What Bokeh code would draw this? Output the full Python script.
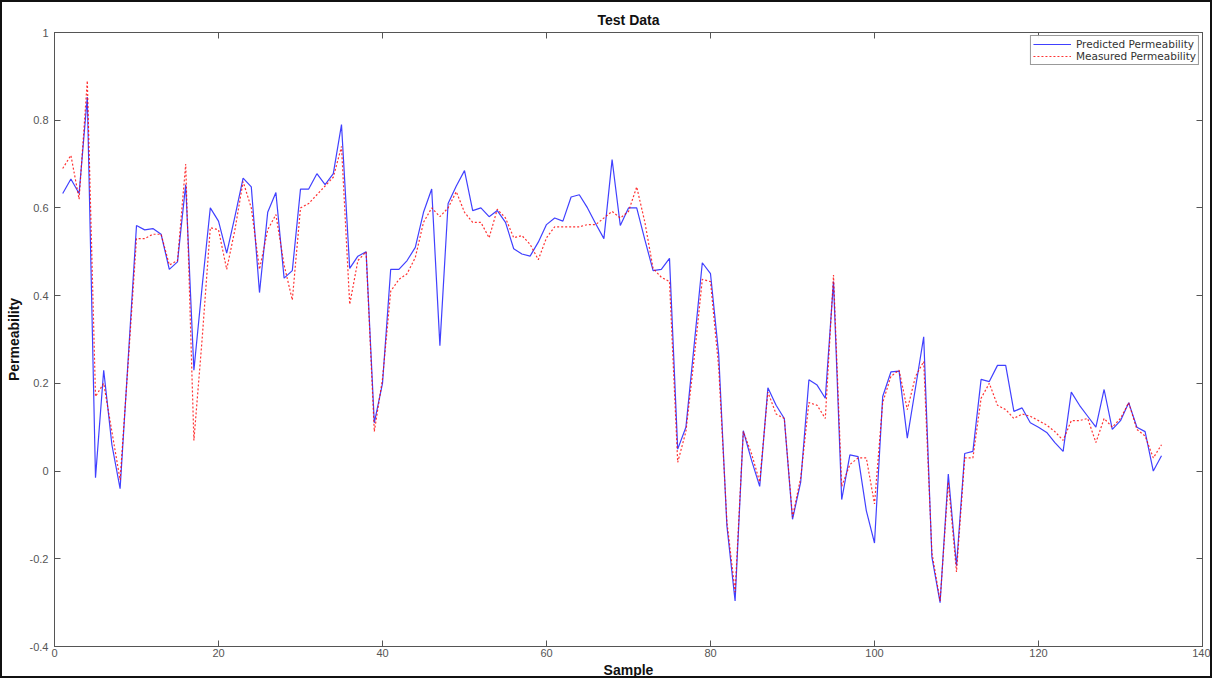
from bokeh.plotting import figure
from bokeh.models import LinearAxis, Legend, LegendItem, CustomJSTickFormatter, FixedTicker, Range1d, Title
from bokeh.embed import file_html
from bokeh.resources import INLINE

samples = list(range(1, 136))
predicted = [
    0.633, 0.666, 0.633, 0.853, -0.015, 0.23, 0.06, -0.04, 0.26, 0.56,
    0.55, 0.553, 0.54, 0.46, 0.477, 0.653, 0.23, 0.42, 0.60, 0.57,
    0.497, 0.58, 0.668, 0.648, 0.407, 0.59, 0.635, 0.44, 0.457, 0.643,
    0.643, 0.678, 0.653, 0.678, 0.79, 0.462, 0.49, 0.50, 0.11, 0.20,
    0.46, 0.46, 0.48, 0.51, 0.59, 0.643, 0.286, 0.61, 0.65, 0.685,
    0.594, 0.60, 0.58, 0.594, 0.567, 0.507, 0.495, 0.49, 0.522, 0.562,
    0.577, 0.57, 0.625, 0.63, 0.60, 0.564, 0.53, 0.71, 0.56, 0.60,
    0.60, 0.527, 0.457, 0.46, 0.485, 0.05, 0.10, 0.286, 0.475, 0.45,
    0.266, -0.125, -0.296, 0.092, 0.025, -0.035, 0.19, 0.15, 0.12, -0.11,
    -0.025, 0.208, 0.196, 0.166, 0.432, -0.065, 0.037, 0.033, -0.09, -0.164,
    0.17, 0.226, 0.228, 0.075, 0.19, 0.306, -0.196, -0.30, -0.007, -0.216,
    0.04, 0.045, 0.209, 0.204, 0.241, 0.241, 0.136, 0.144, 0.11, 0.10,
    0.088, 0.065, 0.045, 0.18, 0.15, 0.125, 0.10, 0.186, 0.095, 0.115,
    0.156, 0.10, 0.09, 0.0, 0.035,
]
measured = [
    0.69, 0.72, 0.62, 0.89, 0.17, 0.20, 0.09, -0.02, 0.25, 0.53,
    0.53, 0.54, 0.54, 0.47, 0.48, 0.70, 0.07, 0.30, 0.555, 0.55,
    0.46, 0.55, 0.66, 0.60, 0.46, 0.55, 0.585, 0.47, 0.39, 0.60,
    0.61, 0.63, 0.65, 0.67, 0.74, 0.38, 0.48, 0.50, 0.09, 0.21,
    0.41, 0.437, 0.45, 0.487, 0.567, 0.60, 0.58, 0.60, 0.637, 0.59,
    0.567, 0.567, 0.532, 0.597, 0.577, 0.532, 0.537, 0.517, 0.482, 0.532,
    0.557, 0.557, 0.557, 0.557, 0.562, 0.562, 0.577, 0.592, 0.577, 0.592,
    0.648, 0.567, 0.462, 0.442, 0.432, 0.02, 0.09, 0.256, 0.437, 0.432,
    0.236, -0.115, -0.276, 0.09, 0.04, -0.025, 0.18, 0.13, 0.12, -0.105,
    -0.015, 0.156, 0.15, 0.12, 0.447, -0.035, 0.015, 0.03, 0.03, -0.075,
    0.156, 0.216, 0.23, 0.14, 0.216, 0.25, -0.186, -0.296, -0.025, -0.23,
    0.03, 0.03, 0.166, 0.20, 0.15, 0.14, 0.12, 0.13, 0.125, 0.115,
    0.105, 0.09, 0.07, 0.115, 0.115, 0.12, 0.065, 0.12, 0.10, 0.12,
    0.156, 0.095, 0.08, 0.03, 0.06,
]
x_ticks = [0, 20, 40, 60, 80, 100, 120, 140]
y_ticks = [-0.4, -0.2, 0, 0.2, 0.4, 0.6, 0.8, 1]

FONT = "Liberation Sans"

p = figure(width=1212, height=678, output_backend="svg", toolbar_location=None,
           x_range=Range1d(0, 140), y_range=Range1d(-0.4, 1),
           min_border_left=52, min_border_right=12, min_border_top=30, min_border_bottom=34)
p.title = Title(text="Test Data", align="center", text_font=FONT, text_font_size="14px",
                text_font_style="bold", text_color="#111111", offset=0, standoff=10,
                text_line_height=0.8)
p.grid.visible = False
p.outline_line_color = "#555555"
p.styles = {"border": "2px solid #111111"}

fmt = CustomJSTickFormatter(code="return String(Math.round(tick*10)/10);")
for ax in (p.xaxis[0], p.yaxis[0]):
    ax.major_tick_in = 6
    ax.major_tick_out = 0
    ax.minor_tick_in = 0
    ax.minor_tick_out = 0
    ax.axis_line_color = "#555555"
    ax.major_tick_line_color = "#555555"
    ax.major_label_text_font = FONT
    ax.major_label_text_font_size = "11px"
    ax.major_label_text_color = "#555555"
    ax.axis_label_text_font = FONT
    ax.axis_label_text_font_size = "14px"
    ax.axis_label_text_font_style = "bold"
    ax.axis_label_text_color = "#111111"
    ax.formatter = fmt
p.xaxis[0].ticker = FixedTicker(ticks=x_ticks)
p.yaxis[0].ticker = FixedTicker(ticks=y_ticks)
p.xaxis[0].axis_label = "Sample"
p.yaxis[0].axis_label = "Permeability"
p.xaxis[0].major_label_standoff = 2
p.xaxis[0].axis_label_standoff = 2
p.yaxis[0].major_label_standoff = 6
p.yaxis[0].axis_label_standoff = 5

blank = CustomJSTickFormatter(code="return '';")
top = LinearAxis(ticker=FixedTicker(ticks=x_ticks), formatter=blank,
                 major_tick_in=6, major_tick_out=0, minor_tick_in=0, minor_tick_out=0,
                 axis_line_color="#555555", major_tick_line_color="#555555", major_label_standoff=0)
right = LinearAxis(ticker=FixedTicker(ticks=y_ticks), formatter=blank,
                   major_tick_in=6, major_tick_out=0, minor_tick_in=0, minor_tick_out=0,
                   axis_line_color="#555555", major_tick_line_color="#555555", major_label_standoff=0)
p.add_layout(top, "above")
p.add_layout(right, "right")

r1 = p.line(samples, predicted, line_color="#0000ff", line_width=1.2, line_alpha=0.75)
r2 = p.line(samples, measured, line_color="#ff0000", line_width=1.2, line_dash="2 2", line_alpha=0.8)

legend = Legend(items=[LegendItem(label="Predicted Permeability", renderers=[r1]),
                       LegendItem(label="Measured Permeability", renderers=[r2])],
                location="top_right", label_text_font="DejaVu Sans", label_text_font_size="10.5px",
                label_text_color="#333333", glyph_width=38, glyph_height=8,
                label_height=8, spacing=-1, padding=2, margin=3,
                border_line_color="#333333", label_standoff=5)
p.add_layout(legend)

open("out.html", "w").write(file_html(p, INLINE))
